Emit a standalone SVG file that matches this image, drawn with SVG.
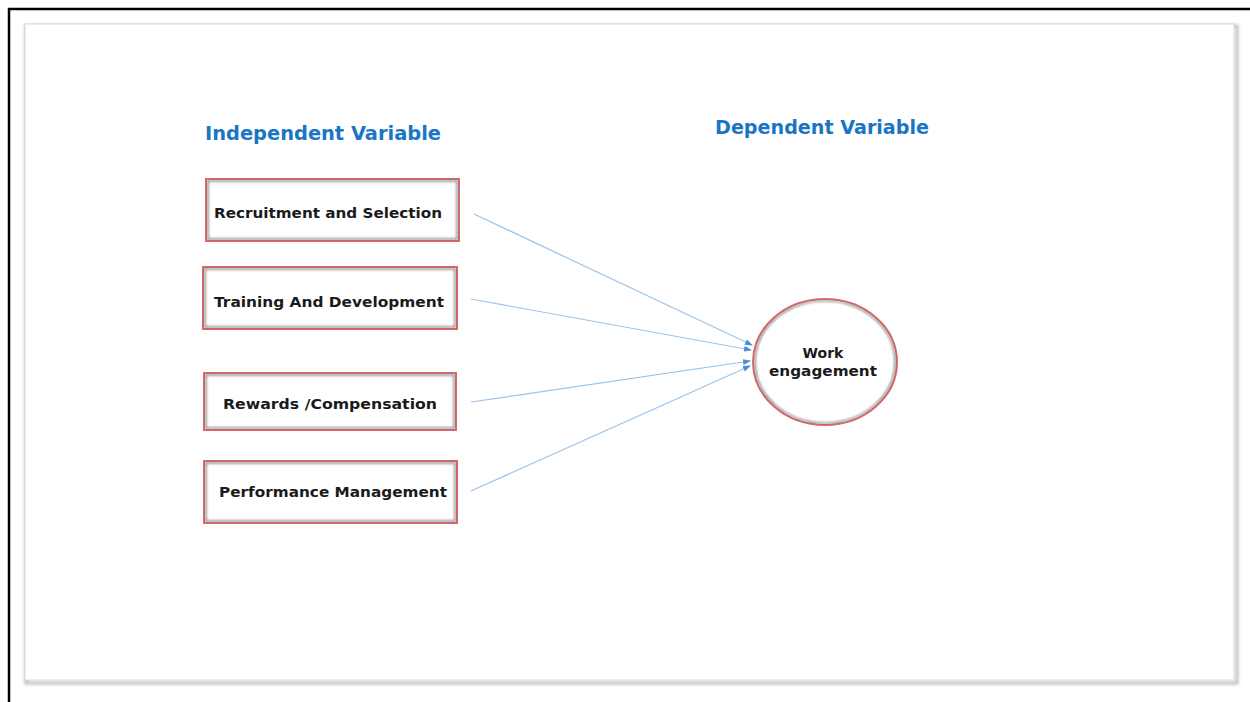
<svg xmlns="http://www.w3.org/2000/svg" width="1250" height="702" viewBox="0 0 1250 702">
<defs>
<style>
.title{font-family:"DejaVu Sans",Verdana,sans-serif;font-weight:bold;font-size:19px;fill:#1a75c4}
.lbl{font-family:"DejaVu Sans",Verdana,sans-serif;font-weight:bold;font-size:14px;fill:#1a1a1a}
.box{fill:#fff;stroke:#e06a6a;stroke-width:2}
.inner{fill:none;stroke:#555;stroke-width:1.2;filter:url(#blur)}
.conn{stroke:#9cc3e8;stroke-width:1.2;fill:none;marker-end:url(#ah)}
</style>
<filter id="blur" x="-5%" y="-5%" width="110%" height="110%"><feGaussianBlur stdDeviation="0.8"/></filter>
<filter id="fshadow" x="-2%" y="-2%" width="104%" height="104%"><feGaussianBlur stdDeviation="1.5"/></filter>
<marker id="ah" markerWidth="8" markerHeight="6" refX="7" refY="3" orient="auto" markerUnits="userSpaceOnUse">
<path d="M0,0 L8,3 L0,6 z" fill="#4a8fd6"/>
</marker>
</defs>
<rect width="1250" height="702" fill="#fff"/>
<g id="outer-border">
<line x1="8" y1="9" x2="1250" y2="9" stroke="#000" stroke-width="2.5"/>
<line x1="9" y1="8" x2="9" y2="702" stroke="#000" stroke-width="2.5"/>
</g>
<g id="frame">
<rect x="26" y="26" width="1211" height="657" fill="none" stroke="#bdbdbd" stroke-width="3" filter="url(#fshadow)"/>
<rect x="25" y="24" width="1209" height="656" fill="#fff" stroke="#d8d8d8" stroke-width="1"/>
</g>
<g id="title-independent"><text class="title" x="205" y="140" textLength="236" lengthAdjust="spacingAndGlyphs">Independent Variable</text></g>
<g id="title-dependent"><text class="title" x="715" y="134" textLength="214" lengthAdjust="spacingAndGlyphs">Dependent Variable</text></g>
<g id="connectors">
<line class="conn" x1="474" y1="214" x2="752" y2="345"/>
<line class="conn" x1="471" y1="299" x2="751" y2="350"/>
<line class="conn" x1="471" y1="402" x2="750" y2="361"/>
<line class="conn" x1="471" y1="491" x2="750" y2="366"/>
</g>
<g id="node-recruitment">
<rect class="box" x="206" y="179" width="253" height="62"/>
<rect class="inner" x="208" y="181" width="249" height="58"/>
<text class="lbl" x="214" y="218" textLength="228" lengthAdjust="spacingAndGlyphs">Recruitment and Selection</text>
</g>
<g id="node-training">
<rect class="box" x="203" y="267" width="254" height="62"/>
<rect class="inner" x="205" y="269" width="250" height="58"/>
<text class="lbl" x="214" y="307" textLength="230" lengthAdjust="spacingAndGlyphs">Training And Development</text>
</g>
<g id="node-rewards">
<rect class="box" x="204" y="373" width="252" height="57"/>
<rect class="inner" x="206" y="375" width="248" height="53"/>
<text class="lbl" x="223" y="409" textLength="214" lengthAdjust="spacingAndGlyphs">Rewards /Compensation</text>
</g>
<g id="node-performance">
<rect class="box" x="204" y="461" width="253" height="62"/>
<rect class="inner" x="206" y="463" width="249" height="58"/>
<text class="lbl" x="219" y="497" textLength="228" lengthAdjust="spacingAndGlyphs">Performance Management</text>
</g>
<g id="node-work-engagement">
<ellipse cx="825" cy="362" rx="72" ry="63" fill="#fff" stroke="#e06a6a" stroke-width="2"/>
<ellipse cx="825" cy="362" rx="70" ry="61" fill="none" stroke="#555" stroke-width="1.2" filter="url(#blur)"/>
<text class="lbl" x="823" y="358" text-anchor="middle">Work</text>
<text class="lbl" x="823" y="376" text-anchor="middle" textLength="108" lengthAdjust="spacingAndGlyphs">engagement</text>
</g>
</svg>
